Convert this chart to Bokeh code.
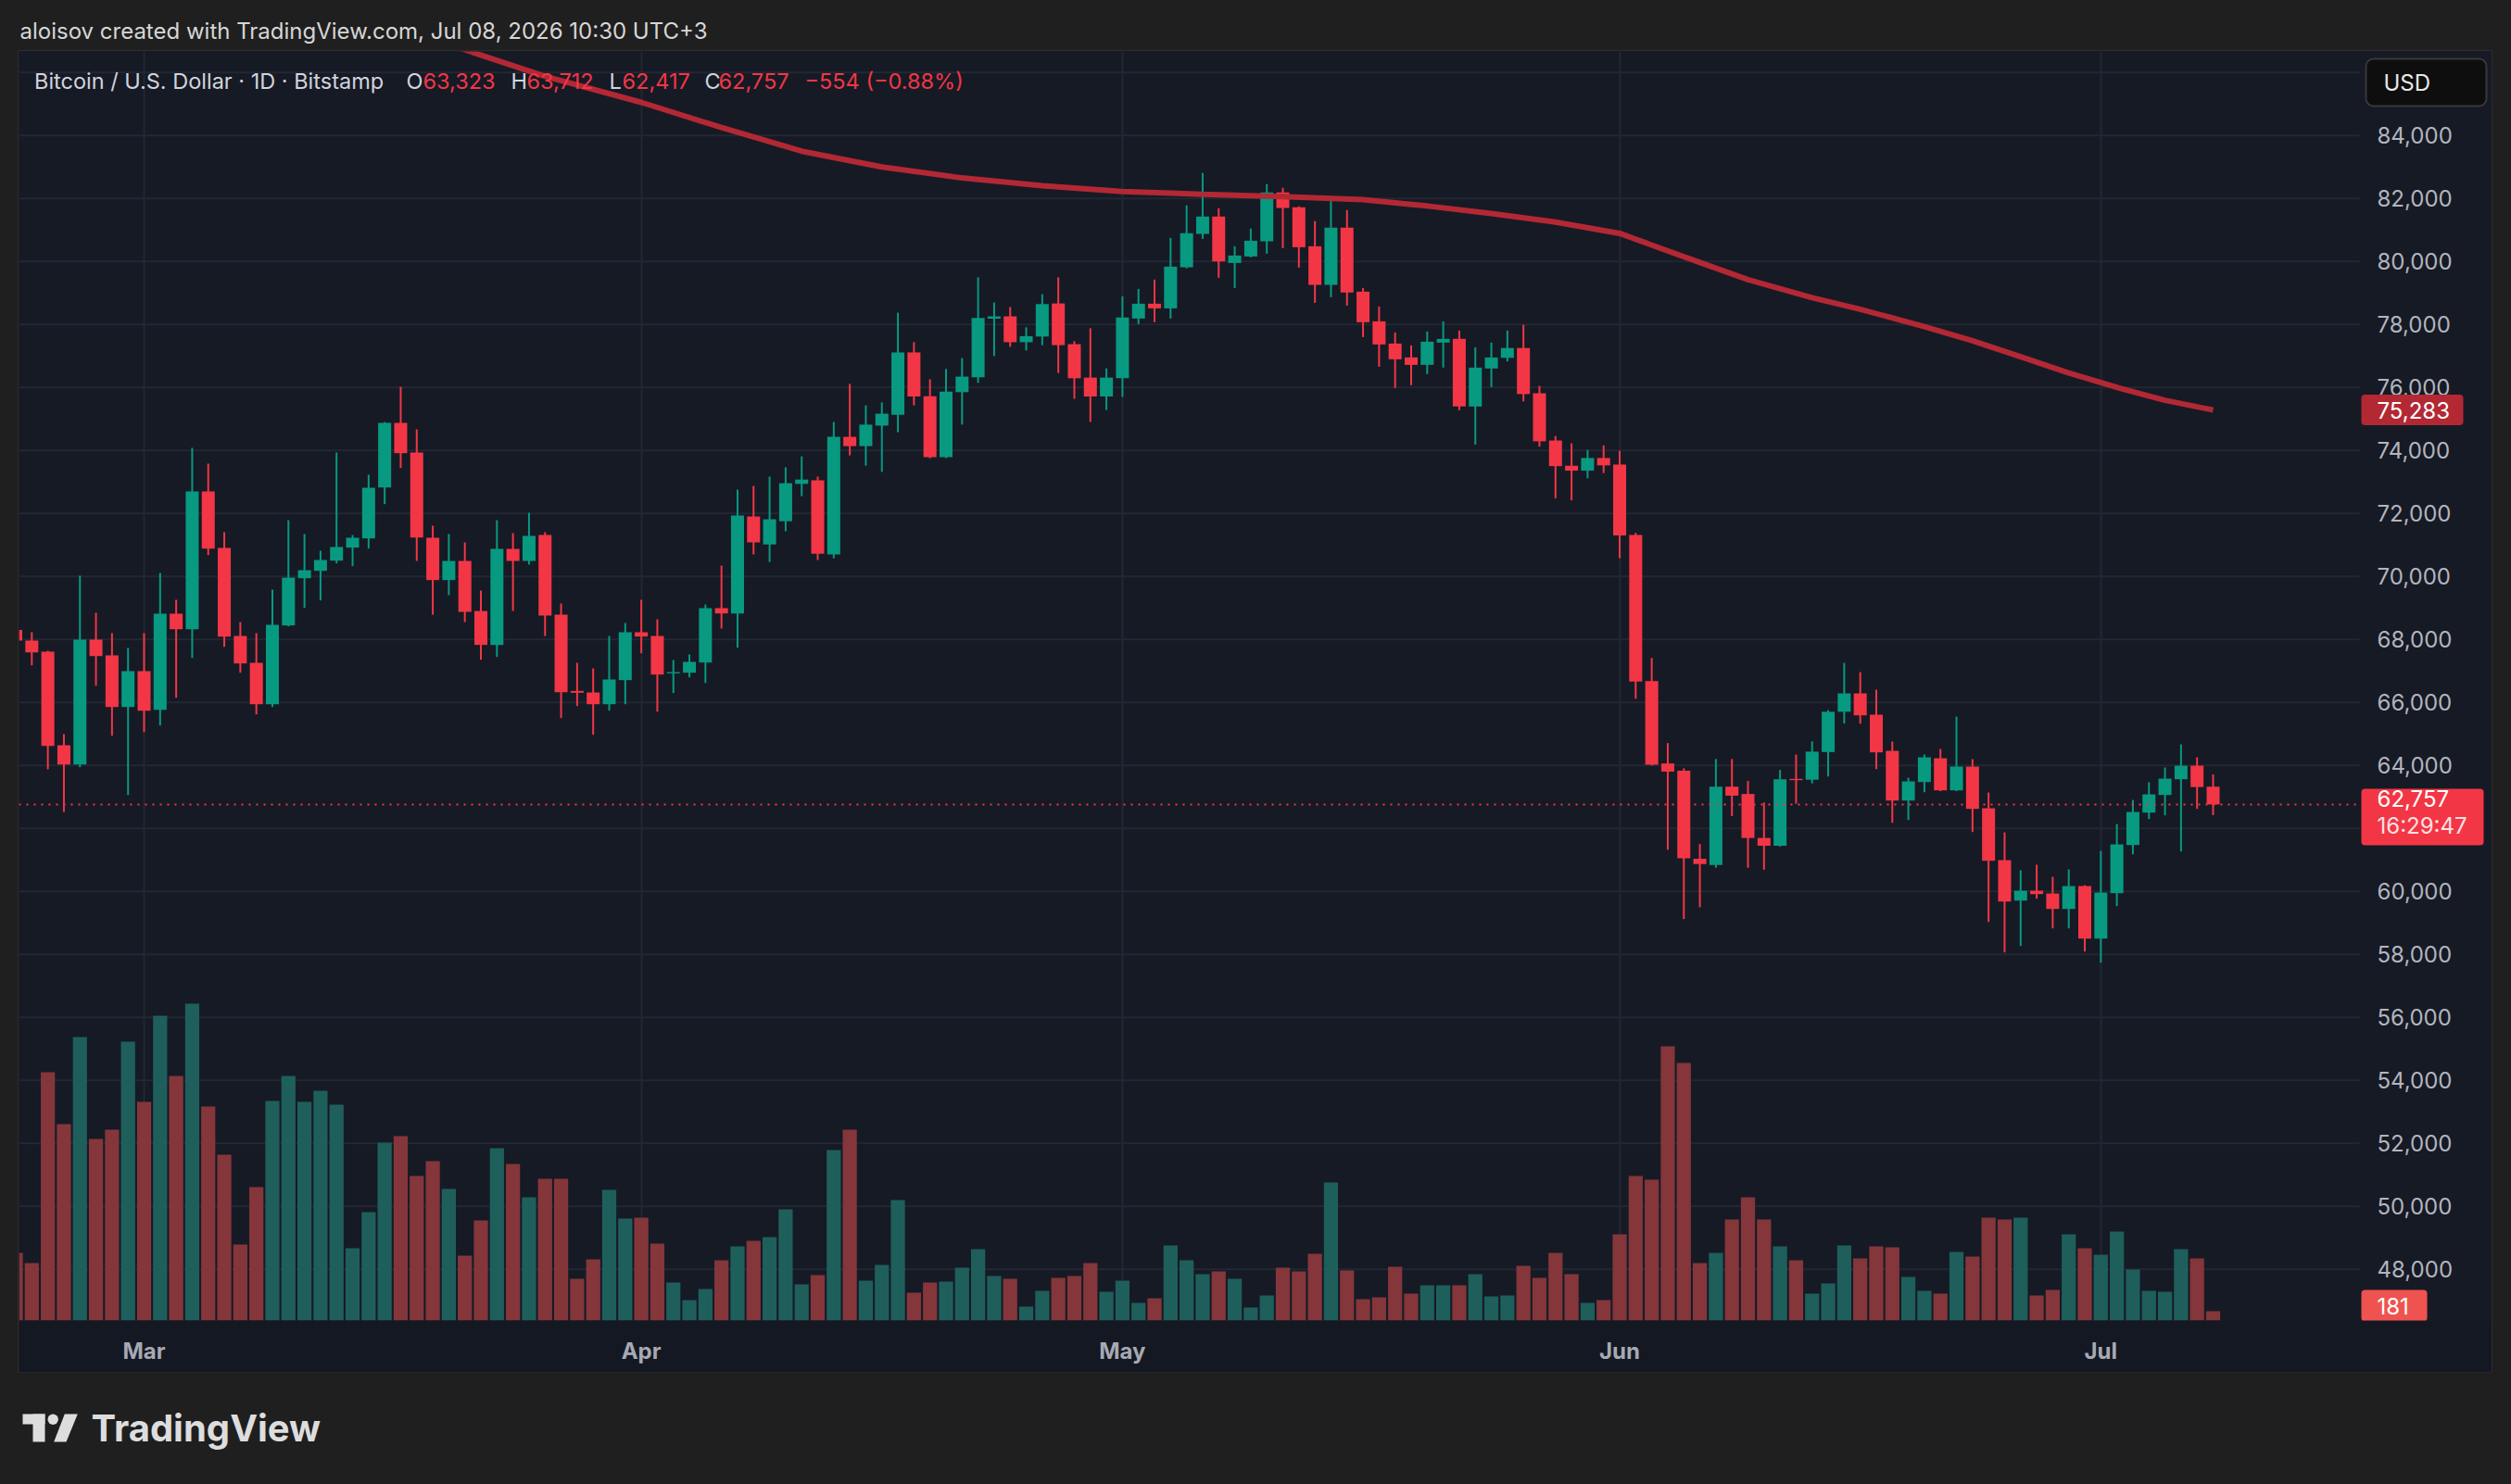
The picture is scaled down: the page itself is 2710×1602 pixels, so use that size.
import numpy as np
import pandas as pd
from bokeh.plotting import figure
from bokeh.models import Range1d, FixedTicker, Label, ColumnDataSource, Spacer
from bokeh.layouts import column, row
from bokeh.core.properties import value
from bokeh.embed import file_html
from bokeh.resources import INLINE

# ---------------- data ----------------
start_date = "2026-02-21"
end_date = "2026-07-08"

opens = [
    68300, 67961, 67608, 64638, 64030, 67990, 67490, 65853,
    66990, 65765, 68814, 68324, 72696, 70903, 68108, 67255, 65941, 68442, 69942, 70177, 70500, 70912, 71206, 72824,
    74873, 73931, 71226, 69883, 70490, 68902, 67824, 70873, 70490, 71314, 68785, 66363, 66314, 65941, 66706,
    68226, 68108, 66920, 66941, 67265, 68991, 68824, 71902, 71014, 71750, 72937, 73053, 70699, 74430, 74135,
    74787, 75134, 77110, 75722, 73788, 75849, 76321, 78182, 78255, 77435, 77615, 78665, 77372, 76311, 75712,
    76290, 78187, 78657, 78510, 79814, 80873, 81422, 79951, 80157, 80638, 82187, 81716, 80480, 79255, 81069,
    79040, 78098, 77392, 76951, 76716, 77422, 77540, 75393, 76600, 76939, 77250, 75814, 74314, 73513, 73357, 73758,
    73551, 71314, 66672, 64060, 63827, 61034, 60840, 63323, 63090, 61694, 61448, 63570, 63543, 64422, 65702,
    66284, 65608, 64461, 62882, 63471, 64225, 63206, 63961, 62637, 60990, 59706, 60020, 59931, 59441, 60167,
    58500, 59941, 61470, 62500, 63059, 63559, 63990, 63323,
]
highs = [
    68500, 68226, 67637, 64990, 70020, 68843, 68196, 67726,
    68196, 70108, 69255, 74079, 73579, 71402, 68549, 68196, 69579, 71785, 71343, 70814, 73932, 71314, 73226, 74902,
    76020, 74667, 71608, 71343, 71079, 69549, 71785, 71373, 72020, 71402, 69138, 67255, 67079, 68108, 68520,
    69255, 68638, 67343, 67520, 69108, 70343, 72755, 72873, 73168, 73463, 73809, 73168, 74903, 76111, 75428,
    75523, 78371, 77435, 76258, 76584, 76931, 79495, 78697, 78550, 77908, 78959, 79495, 77467, 77877, 76605,
    78892, 79128, 79422, 80745, 81775, 82804, 81687, 80481, 81040, 82451, 82334, 81745, 81275, 82040, 81628,
    79157, 78569, 77745, 77334, 77775, 78098, 77804, 77275, 77422, 77806, 77987, 76047, 74456, 74224, 74017, 74159,
    73991, 71380, 67409, 64707, 63905, 61500, 64202, 64202, 63504, 62819, 63853, 64344, 64758, 65754, 67254,
    66961, 66402, 64755, 63608, 64343, 64520, 65549, 64196, 63137, 61872, 60667, 60843, 60461, 60696, 60196,
    61284, 62137, 62902, 63461, 63931, 64667, 64255, 63712,
]
lows = [
    67700, 67176, 63873, 62520, 63941, 66530, 64941, 63059,
    65059, 65265, 66147, 67412, 70677, 67765, 66941, 65618, 65853, 68412, 69000, 69236, 70412, 70324, 70883, 72294,
    73442, 70490, 68785, 69402, 68549, 67353, 67442, 68902, 70373, 68108, 65500, 65883, 64971, 65736, 65941,
    67559, 65706, 66294, 66794, 66618, 68343, 67736, 70696, 70457, 71434, 72548, 70520, 70572, 73841, 73515,
    73316, 74577, 75428, 73750, 73757, 74818, 76143, 76994, 77288, 77173, 77341, 76458, 75638, 74903, 75281,
    75696, 78010, 78069, 78187, 79780, 80716, 79481, 79157, 80128, 80245, 80422, 79804, 78687, 78863, 78598,
    77598, 76657, 75981, 76069, 76422, 76628, 75275, 74187, 76010, 76823, 75556, 74120, 72478, 72413, 73112, 73280,
    70577, 66116, 63995, 61319, 59120, 59495, 60750, 62392, 60750, 60685, 61420, 62780, 63426, 63646, 65327,
    65323, 63882, 62176, 62265, 63147, 63180, 63180, 61882, 59029, 58059, 58265, 59765, 58823, 58823, 58088,
    57735, 59529, 61176, 62294, 62412, 61265, 62618, 62417,
]
closes = [
    67960, 67588, 64618, 64030, 67990, 67471, 65853, 66990,
    65736, 68814, 68324, 72696, 70883, 68088, 67236, 65941, 68461, 69961, 70196, 70520, 70932, 71226, 72814, 74873,
    73912, 71236, 69883, 70490, 68873, 67824, 70873, 70490, 71285, 68755, 66324, 66304, 65941, 66726, 68226,
    68089, 66883, 66960, 67285, 68991, 68824, 71932, 71079, 71813, 72958, 73074, 70720, 74430, 74135, 74818,
    75165, 77110, 75712, 73788, 75869, 76342, 78203, 78255, 77435, 77625, 78644, 77341, 76290, 75712, 76311,
    78216, 78657, 78510, 79834, 80893, 81422, 80000, 80187, 80657, 82187, 81696, 80451, 79255, 81069, 79010,
    78069, 77363, 76892, 76716, 77451, 77540, 75393, 76628, 76951, 77250, 75788, 74288, 73500, 73357, 73758, 73525,
    71301, 66659, 64021, 63801, 61047, 60866, 63323, 63038, 61694, 61448, 63556, 63530, 64435, 65702, 66284,
    65588, 64412, 62882, 63490, 64255, 63206, 63961, 62618, 60970, 59676, 60020, 59912, 59441, 60167, 58500,
    59961, 61490, 62519, 63078, 63578, 63990, 63311, 62757,
]
volumes = [
    1321, 1122, 4848, 3835, 5536, 3546, 3727, 5445,
    4269, 5952, 4776, 6187, 4179, 3238, 1483, 2605, 4287, 4776, 4269, 4486, 4215, 1411, 2117, 3473,
    3600, 2822, 3111, 2569, 1266, 1954, 3365, 3057, 2406, 2768, 2768, 814, 1194, 2551, 1990,
    2008, 1501, 742, 398, 615, 1176, 1447, 1556, 1628, 2171, 706, 886, 3329, 3727, 778,
    1085, 2352, 543, 742, 760, 1031, 1393, 868, 814, 271, 579, 832, 868, 1122, 561,
    778, 344, 434, 1465, 1176, 905, 959, 814, 253, 488, 1031, 959, 1302, 2695, 977,
    416, 452, 1049, 525, 687, 687, 687, 905, 470, 488, 1067, 832, 1321, 905, 344, 398,
    1682, 2822, 2750, 5355, 5029, 1122, 1321, 1972, 2406, 1972, 1447, 1176, 525, 724, 1465,
    1212, 1447, 1429, 850, 579, 525, 1339, 1248, 2008, 1972, 2008, 488, 597, 1682, 1411,
    1284, 1737, 995, 579, 561, 1393, 1212, 181,
]
ma_dates = ["2026-03-18", "2026-03-21", "2026-03-26", "2026-04-01", "2026-04-06", "2026-04-11", "2026-04-16",
            "2026-04-21", "2026-04-26", "2026-05-01", "2026-05-06", "2026-05-11", "2026-05-16", "2026-05-20",
            "2026-05-24", "2026-05-28", "2026-06-01", "2026-06-05", "2026-06-09", "2026-06-13", "2026-06-16",
            "2026-06-20", "2026-06-23", "2026-06-26", "2026-06-29", "2026-07-02", "2026-07-05", "2026-07-08"]
ma_values = [87200, 86720, 85880, 85050, 84250, 83500, 83000,
             82650, 82400, 82220, 82130, 82060, 81960, 81760,
             81520, 81250, 80890, 80150, 79420, 78850, 78480,
             77930, 77480, 76970, 76460, 76000, 75590, 75283]
price_ticks = list(range(48000, 84001, 2000))
grid_ticks = list(range(48000, 86001, 2000))
month_ticks = ["2026-03-01", "2026-04-01", "2026-05-01", "2026-06-01", "2026-07-01"]
month_labels = ["Mar", "Apr", "May", "Jun", "Jul"]
last_price = 62757
ma_last = 75283
last_volume = 181
countdown = "16:29:47"

# ---------------- styling ----------------
OUTER = "#1f1f1f"
PANE = "#161a25"
BORDER = "#141822"
UP = "#089981"
DOWN = "#f23645"
VUP = "#1e5f5c"
VDOWN = "#84363b"
GRID = "#232733"
AXIS_TXT = "#b2b5be"
FONT = "Inter"

DAY = 86400000.0
def ms(d):
    return pd.Timestamp(d).value / 1e6

MAR1 = ms("2026-03-01")
PX_MAR1 = 155.0
PX_DAY = 17.31
PX_PRICE = 2000 / 68.0   # price units per pixel

def xpx(px):
    return MAR1 + (px - PX_MAR1) / PX_DAY * DAY

def ypx(py):
    return 84000 - (py - 145.7) * PX_PRICE

dates = pd.date_range(start_date, end_date, freq="D")
xs = [ms(d) for d in dates]
o = np.array(opens); h = np.array(highs); l = np.array(lows); c = np.array(closes)
up = c >= o
src = ColumnDataSource(dict(
    x=xs, o=o, h=h, l=l, c=c,
    top=np.maximum(o, c), bottom=np.minimum(o, c),
    color=[UP if u else DOWN for u in up],
    vcolor=[VUP if u else VDOWN for u in up],
    vol=volumes,
))

# ---------------- header ----------------
hdr = figure(width=2694, height=47, x_range=Range1d(0, 2694), y_range=Range1d(47, 0),
             toolbar_location=None, output_backend="svg", x_axis_type=None, y_axis_type=None,
             min_border=0, background_fill_color=OUTER, border_fill_color=OUTER, outline_line_color=None)
hdr.grid.visible = False
hdr.text(x=[13], y=[25], text=["aloisov created with TradingView.com, Jul 08, 2026 10:30 UTC+3"],
         text_font=value(FONT), text_font_size="24px", text_color="#d6d6d6", text_baseline="middle")

# ---------------- main chart ----------------
PANE_L, PANE_R = 20, 2546
p = figure(width=2669, height=1426,
           x_range=Range1d(xpx(20), xpx(2689)), y_range=Range1d(ypx(1425), ypx(55)),
           y_axis_type=None, toolbar_location=None, output_backend="svg",
           min_border_left=0, min_border_top=0, min_border_right=0, min_border_bottom=56,
           background_fill_color=PANE, border_fill_color=BORDER, outline_line_color=None)
p.styles = {"outline": "1px solid #2c2c31"}
p.extra_y_ranges = {"vol": Range1d(0, 24783)}

p.xaxis.ticker = FixedTicker(ticks=[ms(m) for m in month_ticks])
p.xaxis.major_label_overrides = {ms(m): lab for m, lab in zip(month_ticks, month_labels)}
p.xaxis.axis_line_color = None
p.xaxis.major_tick_line_color = None
p.xaxis.minor_tick_line_color = None
p.xaxis.major_tick_out = 0
p.xaxis.major_tick_in = 0
p.xaxis.major_label_text_font = FONT
p.xaxis.major_label_text_font_size = "24px"
p.xaxis.major_label_text_font_style = "bold"
p.xaxis.major_label_text_color = "#a6a9b3"
p.xaxis.major_label_standoff = 18

p.ygrid.visible = False
p.xgrid.ticker = FixedTicker(ticks=[ms(m) for m in month_ticks])
p.xgrid.grid_line_color = GRID
p.xgrid.grid_line_width = 2

# horizontal grid restricted to the pane
p.segment(x0=[xpx(PANE_L)] * len(grid_ticks), x1=[xpx(PANE_R)] * len(grid_ticks),
          y0=grid_ticks, y1=grid_ticks, line_color=GRID, line_width=2)

# volume
p.vbar(x="x", top="vol", bottom=0, width=0.88 * DAY, y_range_name="vol",
       fill_color="vcolor", line_color=None, source=src)
# candles
p.segment(x0="x", y0="l", x1="x", y1="h", line_color="color", line_width=2, source=src)
p.vbar(x="x", top="top", bottom="bottom", width=0.81 * DAY, fill_color="color", line_color=None, source=src)
# moving average
p.line([ms(d) for d in ma_dates], ma_values, line_color="#b22834", line_width=6)

# last price dotted line
p.segment(x0=[xpx(PANE_L)], x1=[xpx(PANE_R)], y0=[last_price], y1=[last_price],
          line_color=DOWN, line_dash="2 6", line_width=2)

# legend-like header inside the pane
ylegend = ypx(86.7)
parts = [
    (36.5, "Bitcoin / U.S. Dollar · 1D · Bitstamp", "#d1d4dc"),
    (438, "O", "#d1d4dc"), (456, "63,323", DOWN),
    (551, "H", "#d1d4dc"), (568, "63,712", DOWN),
    (657, "L", "#d1d4dc"), (671, "62,417", DOWN),
    (760, "C", "#d1d4dc"), (775, "62,757", DOWN),
    (868, "\u2212554 (\u22120.88%)", DOWN),
]
for px, t, col in parts:
    p.add_layout(Label(x=xpx(px), y=ylegend, text=t, text_color=col, text_font=FONT,
                       text_font_size="23.5px", text_baseline="middle", text_align="left"))

# price scale labels
LBL_X = xpx(2565)
p.text(x=[LBL_X] * len(price_ticks), y=price_ticks, text=[f"{v:,}" for v in price_ticks],
       text_font=value(FONT), text_font_size="24px", text_color=AXIS_TXT,
       text_baseline="middle", text_align="left")

# price scale tags
def box(l_px, r_px, top, bottom, fill, line=None, radius=4):
    p.quad(left=[xpx(l_px)], right=[xpx(r_px)], top=[top], bottom=[bottom],
           fill_color=fill, line_color=line, line_width=2, border_radius=radius)

def tagtext(y, t, color="#ffffff", x=LBL_X):
    p.text(x=[x], y=[y], text=[t], text_font=value(FONT), text_font_size="24px",
           text_color=color, text_baseline="middle", text_align="left")

# MA value tag
box(2548, 2658, ma_last + 16.5 * PX_PRICE, ma_last - 16.5 * PX_PRICE, "#b22833")
tagtext(ma_last, f"{ma_last:,}")
# last price + countdown tag
box(2548, 2680, last_price + 17 * PX_PRICE, last_price - 44 * PX_PRICE, DOWN)
tagtext(last_price + 6 * PX_PRICE, f"{last_price:,}")
tagtext(last_price - 23 * PX_PRICE, countdown, "#fde0e3")
# last volume tag
box(2548, 2619, ypx(1392), ypx(1426), "#ef5350")
tagtext(ypx(1409), f"{last_volume}")
# currency button
box(2553, 2683, ypx(63), ypx(114), "#0e0e0e", line="#38383c", radius=8)
tagtext(ypx(88.5), "USD", "#e8e8e8", x=xpx(2572))

# ---------------- footer with logo ----------------
ftr = figure(width=2694, height=113, x_range=Range1d(0, 2694), y_range=Range1d(113, 0),
             toolbar_location=None, output_backend="svg", x_axis_type=None, y_axis_type=None,
             min_border=0, background_fill_color=OUTER, border_fill_color=OUTER, outline_line_color=None)
ftr.grid.visible = False
LOGO = "#dddddd"
ftr.quad(left=[16, 27], right=[40, 40], top=[45, 45], bottom=[56, 75], fill_color=LOGO, line_color=None)
ftr.circle(x=[48.7], y=[50.7], radius=5.7, fill_color=LOGO, line_color=None)
ftr.patch(x=[61.3, 75.3, 63.0, 49.7], y=[45, 45, 75, 75], fill_color=LOGO, line_color=None)
ftr.text(x=[90], y=[60], text=["TradingView"], text_font=value(FONT), text_font_size="40px",
         text_font_style="bold", text_color=LOGO, text_baseline="middle")

layout = column(hdr, row(Spacer(width=12, height=1426), p), ftr)

html = file_html(layout, INLINE, title="BTCUSD")
style = ("<style>html,body{background:#1f1f1f !important;}"
         "body{margin:0 !important;padding:8px !important;box-sizing:border-box;}</style>")
html = html.replace("</head>", style + "</head>", 1)
open("out.html", "w").write(html)
